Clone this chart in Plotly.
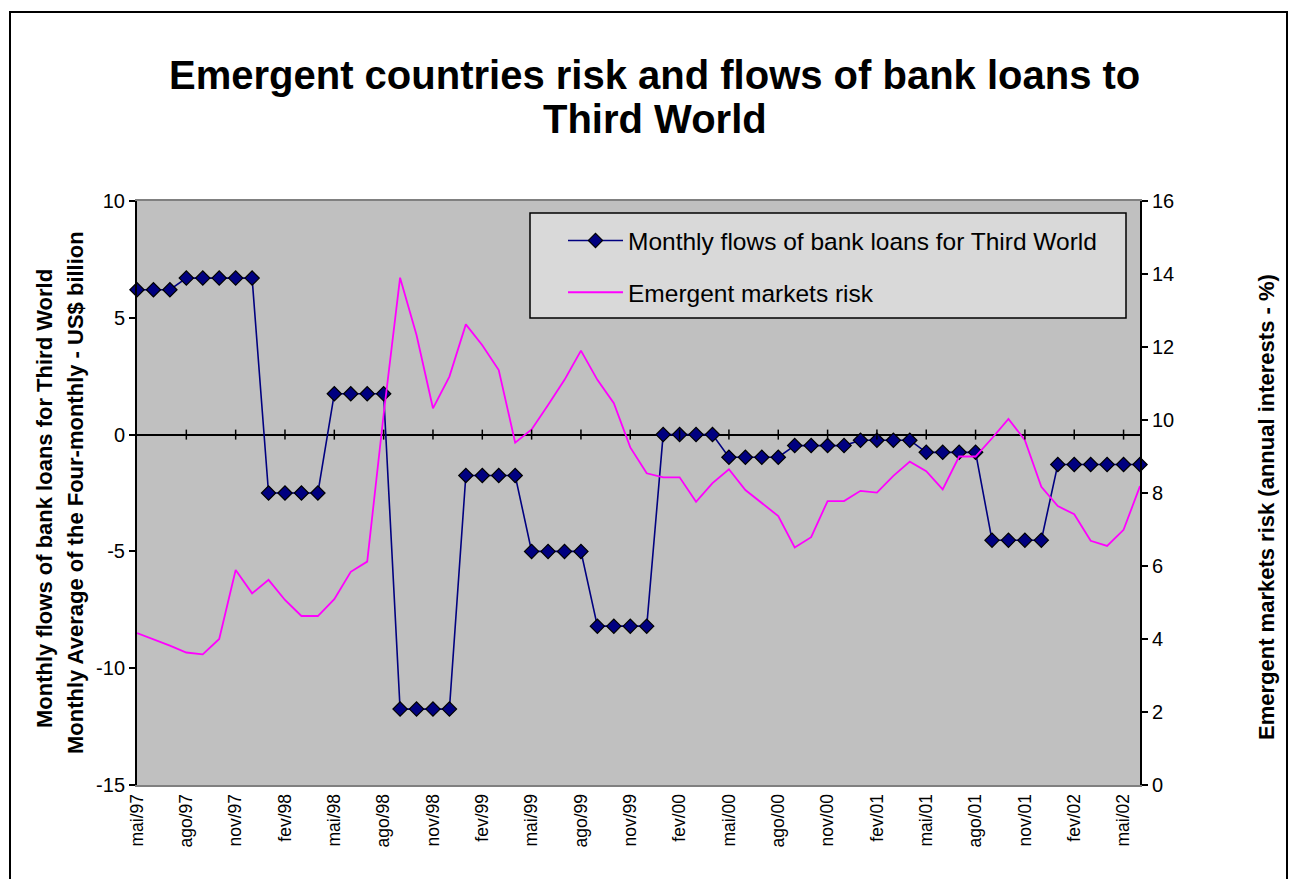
import plotly.graph_objects as go

# Month labels (Portuguese abbreviations), May 1997 .. June 2002
months = [
    "mai/97", "jun/97", "jul/97", "ago/97", "set/97", "out/97", "nov/97", "dez/97",
    "jan/98", "fev/98", "mar/98", "abr/98", "mai/98", "jun/98", "jul/98", "ago/98",
    "set/98", "out/98", "nov/98", "dez/98", "jan/99", "fev/99", "mar/99", "abr/99",
    "mai/99", "jun/99", "jul/99", "ago/99", "set/99", "out/99", "nov/99", "dez/99",
    "jan/00", "fev/00", "mar/00", "abr/00", "mai/00", "jun/00", "jul/00", "ago/00",
    "set/00", "out/00", "nov/00", "dez/00", "jan/01", "fev/01", "mar/01", "abr/01",
    "mai/01", "jun/01", "jul/01", "ago/01", "set/01", "out/01", "nov/01", "dez/01",
    "jan/02", "fev/02", "mar/02", "abr/02", "mai/02", "jun/02",
]

# Monthly flows of bank loans (four-monthly average, US$ billion)
bank_loans = [
    6.2, 6.2, 6.2, 6.7, 6.7, 6.7, 6.7, 6.7,
    -2.5, -2.5, -2.5, -2.5, 1.75, 1.75, 1.75, 1.75,
    -11.75, -11.75, -11.75, -11.75, -1.75, -1.75, -1.75, -1.75,
    -5.0, -5.0, -5.0, -5.0, -8.2, -8.2, -8.2, -8.2,
    0.0, 0.0, 0.0, 0.0, -0.97, -0.97, -0.97, -0.97,
    -0.47, -0.47, -0.47, -0.47, -0.24, -0.24, -0.24, -0.24,
    -0.76, -0.76, -0.76, -0.76, -4.52, -4.52, -4.52, -4.52,
    -1.28, -1.28, -1.28, -1.28, -1.28, -1.28,
]

# Emergent markets risk (annual interest, %)
market_risk = [
    4.16, 4.0, 3.82, 3.63, 3.58, 4.0, 5.89, 5.25,
    5.62, 5.07, 4.63, 4.63, 5.09, 5.84, 6.12, 10.15,
    13.9, 12.33, 10.32, 11.19, 12.62, 12.05, 11.37, 9.38,
    9.74, 10.41, 11.1, 11.9, 11.1, 10.46, 9.25, 8.54,
    8.43, 8.43, 7.76, 8.27, 8.65, 8.08, 7.72, 7.37,
    6.51, 6.79, 7.78, 7.78, 8.06, 8.01, 8.47, 8.86,
    8.6, 8.1, 9.0, 9.0, 9.5, 10.03, 9.45, 8.17,
    7.64, 7.42, 6.69, 6.55, 6.99, 8.19,
]

# Axis tick values
left_ticks = [-15, -10, -5, 0, 5, 10]
right_ticks = [0, 2, 4, 6, 8, 10, 12, 14, 16]

FONT = "Arial, Liberation Sans, sans-serif"
W, H = 1289, 879
L, R, T, B = 137, 149, 201, 94
PW, PH = W - L - R, H - T - B

def px_x(x):
    return (x - L) / PW

def px_y(y):
    return (H - B - y) / PH

idx = list(range(len(months)))
label_idx = idx[::3][:21]

fig = go.Figure()

fig.add_trace(go.Scatter(
    x=idx, y=bank_loans, mode="lines+markers",
    name="Monthly flows of bank loans for Third World",
    line=dict(color="#000080", width=1.6),
    marker=dict(symbol="diamond", size=11, color="#000080",
                line=dict(color="black", width=1.2)),
    cliponaxis=False, legendgroup="a",
))
fig.add_trace(go.Scatter(
    x=idx, y=market_risk, mode="lines", yaxis="y2",
    name="Emergent markets risk",
    line=dict(color="#ff00ff", width=1.8),
    legendgroup="b",
))

shapes = []
# outer chart frame
shapes.append(dict(type="rect", xref="paper", yref="paper",
                   x0=px_x(10), x1=px_x(1287), y0=px_y(890), y1=px_y(12),
                   line=dict(color="black", width=2), fillcolor="rgba(0,0,0,0)",
                   layer="below"))
# legend box
shapes.append(dict(type="rect", xref="paper", yref="paper",
                   x0=px_x(530), x1=px_x(1126), y0=px_y(318), y1=px_y(213),
                   line=dict(color="black", width=1.5), fillcolor="#d9d9d9",
                   layer="above"))
# category tick marks crossing the zero line
for i in idx[3::3]:
    shapes.append(dict(type="line", xref="x", yref="y", ysizemode="pixel",
                       yanchor=0, x0=i, x1=i, y0=-5, y1=5,
                       line=dict(color="black", width=1.5)))

TITLE_FONT = dict(family=FONT, size=40, color="black")
AXIS_TITLE_FONT = dict(family=FONT, size=22, color="black")

annotations = [
    dict(text="<b>Emergent countries risk and flows of bank loans to</b>",
         xref="paper", yref="paper", x=px_x(654), y=px_y(75),
         showarrow=False, xanchor="center", yanchor="middle", font=TITLE_FONT),
    dict(text="<b>Third World</b>",
         xref="paper", yref="paper", x=px_x(655), y=px_y(119),
         showarrow=False, xanchor="center", yanchor="middle", font=TITLE_FONT),
    dict(text="<b>Monthly flows of bank loans for Third World</b>",
         xref="paper", yref="paper", x=px_x(45), y=px_y(499),
         textangle=-90, showarrow=False, xanchor="center", yanchor="middle",
         font=AXIS_TITLE_FONT),
    dict(text="<b>Monthly Average of the Four-monthly - US$ billion</b>",
         xref="paper", yref="paper", x=px_x(75), y=px_y(493),
         textangle=-90, showarrow=False, xanchor="center", yanchor="middle",
         font=AXIS_TITLE_FONT),
    dict(text="<b>Emergent markets risk (annual interests - %)</b>",
         xref="paper", yref="paper", x=px_x(1266), y=px_y(507),
         textangle=-90, showarrow=False, xanchor="center", yanchor="middle",
         font=AXIS_TITLE_FONT),
]

fig.update_layout(
    width=W, height=H,
    margin=dict(l=L, r=R, t=T, b=B, autoexpand=False),
    paper_bgcolor="white", plot_bgcolor="#c0c0c0",
    font=dict(family=FONT, color="black"),
    xaxis=dict(
        range=[0, len(months) - 1], tickmode="array",
        tickvals=label_idx, ticktext=[months[i] for i in label_idx],
        tickangle=-90, ticks="", showgrid=False, zeroline=False,
        showline=True, linecolor="#808080", linewidth=2, mirror=True,
        tickfont=dict(family=FONT, size=17.5, color="black"),
    ),
    yaxis=dict(
        range=[-15, 10], tickmode="array", tickvals=left_ticks,
        ticktext=[f"{v:g}" for v in left_ticks],
        ticks="outside", ticklen=6, tickwidth=2,
        tickcolor="black", showgrid=False, showline=True, linecolor="black",
        linewidth=2, zeroline=True, zerolinecolor="black", zerolinewidth=2,
        tickfont=dict(family=FONT, size=20, color="black"),
    ),
    yaxis2=dict(
        range=[0, 16], tickmode="array", tickvals=right_ticks,
        ticktext=[f"{v:g}" for v in right_ticks],
        overlaying="y", side="right", ticks="outside",
        ticklen=6, tickwidth=2, tickcolor="black", showgrid=False,
        showline=True, linecolor="black", linewidth=2, zeroline=False,
        tickfont=dict(family=FONT, size=20, color="black"),
    ),
    legend=dict(
        x=px_x(563), y=px_y(218), xanchor="left", yanchor="top",
        bgcolor="rgba(0,0,0,0)", borderwidth=0, itemwidth=55,
        font=dict(family=FONT, size=24.5, color="black"),
        traceorder="grouped", tracegroupgap=17,
    ),
    shapes=shapes,
    annotations=annotations,
)

fig.write_html("out.html")
